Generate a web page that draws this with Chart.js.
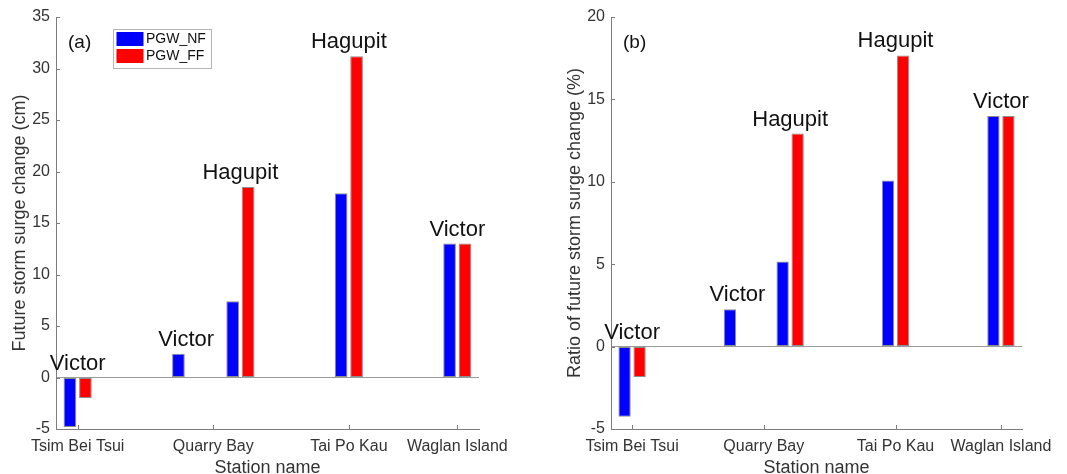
<!DOCTYPE html>
<html>
<head>
<meta charset="utf-8">
<title>Future storm surge change</title>
<script src="https://cdn.jsdelivr.net/npm/chart.js@4.4.0/dist/chart.umd.min.js"></script>
<style>
body { margin: 0; background: #fff; width: 1067px; height: 474px; overflow: hidden; position: relative; }
canvas { position: absolute; top: 0; }
#graficoA { left: 0; }
#graficoB { left: 530px; }
</style>
</head>
<body>
<canvas id="graficoA" width="530" height="474"></canvas>
<canvas id="graficoB" width="537" height="474"></canvas>
<script>
"use strict";

////////////////////////////////////////////////////// datos
const stationNames = ["Tsim Bei Tsui", "Quarry Bay", "Tai Po Kau", "Waglan Island"];
const stationTicks = [1, 3.5, 6, 8];
const casePos = [1, 3, 4, 6, 8];
const storms = ["Victor", "Victor", "Hagupit", "Hagupit", "Victor"];
const seriesNames = ["PGW_NF", "PGW_FF"];
const surgeNF = [-4.8, 2.3, 7.4, 17.9, 13.0];
const surgeFF = [-2.0, null, 18.5, 31.2, 13.0];
const ratioNF = [-4.25, 2.27, 5.16, 10.08, 14.0];
const ratioFF = [-1.84, null, 12.93, 17.67, 14.0];

////////////////////////////////////////////////////// estilos
const colores = ["#0000ff", "#ff0000"];
const colorEje = "#7d7d7d";
const colorTexto = "#333333";
Chart.defaults.font.family = '"Liberation Sans", Arial, Helvetica, sans-serif';
Chart.defaults.color = colorTexto;

function puntos(valores) {
    return casePos.map((x, i) => ({ x: x, y: valores[i] }));
}

////////////////////////////////////////////////////// plugin: ticks, etiquetas, leyenda
const extras = {
    id: "extras",
    afterDatasetsDraw(chart, args, opts) {
        const ctx = chart.ctx;
        const xs = chart.scales.x;
        const ys = chart.scales.y;
        const area = chart.chartArea;
        ctx.save();
        // ticks hacia dentro
        ctx.strokeStyle = colorEje;
        ctx.lineWidth = 1;
        ys.ticks.forEach((t) => {
            const py = Math.round(ys.getPixelForValue(t.value)) + 0.5;
            ctx.beginPath();
            ctx.moveTo(area.left, py);
            ctx.lineTo(area.left + 4, py);
            ctx.stroke();
        });
        xs.ticks.forEach((t) => {
            const px = Math.round(xs.getPixelForValue(t.value)) + 0.5;
            ctx.beginPath();
            ctx.moveTo(px, area.bottom);
            ctx.lineTo(px, area.bottom - 4);
            ctx.stroke();
        });
        // nombre del tifón encima de cada grupo
        const nf = chart.data.datasets[0].data;
        const ff = chart.data.datasets[1].data;
        ctx.fillStyle = "#111";
        ctx.font = '22px "Liberation Sans", Arial, sans-serif';
        ctx.textAlign = "center";
        ctx.textBaseline = "alphabetic";
        storms.forEach((nombre, i) => {
            const tope = Math.max(0, nf[i].y || 0, ff[i].y || 0);
            const px = xs.getPixelForValue(casePos[i]);
            const py = ys.getPixelForValue(tope) - 8;
            ctx.fillText(nombre, px, py);
        });
        // letra del panel
        ctx.textAlign = "left";
        ctx.textBaseline = "middle";
        ctx.font = '19px "Liberation Sans", Arial, sans-serif';
        ctx.fillText(opts.letra, area.left + opts.letraX, 43);
        // leyenda dentro del área
        if (opts.leyenda) {
            const bx = area.left + 57;
            const by = area.top + 12;
            ctx.fillStyle = "#fff";
            ctx.fillRect(bx, by, 98, 39);
            ctx.strokeStyle = "#b5b5b5";
            ctx.strokeRect(bx + 0.5, by + 0.5, 98, 39);
            ctx.font = '14px "Liberation Sans", Arial, sans-serif';
            seriesNames.forEach((s, k) => {
                const ry = by + 3 + k * 17;
                ctx.fillStyle = colores[k];
                ctx.fillRect(bx + 3.5, ry, 27, 14);
                ctx.fillStyle = "#111";
                ctx.fillText(s, bx + 33, ry + 7.5);
            });
        }
        ctx.restore();
    },
};

////////////////////////////////////////////////////// crear gráfico
function pintarGrafico(id, nf, ff, yMax, tituloY, pad, letra, leyenda) {
    const ctx = document.getElementById(id).getContext("2d");
    return new Chart(ctx, {
        type: "bar",
        data: {
            datasets: [
                { label: seriesNames[0], data: puntos(nf), backgroundColor: colores[0] },
                { label: seriesNames[1], data: puntos(ff), backgroundColor: colores[1] },
            ],
        },
        options: {
            responsive: false,
            animation: false,
            devicePixelRatio: 1,
            layout: { padding: pad },
            datasets: {
                bar: {
                    categoryPercentage: 0.57,
                    barPercentage: 0.82,
                    borderWidth: 1,
                    borderColor: "rgba(50,50,50,0.55)",
                    borderSkipped: false,
                },
            },
            plugins: {
                legend: { display: false },
                tooltip: { enabled: false },
                extras: { letra: letra, letraX: 12, leyenda: leyenda },
            },
            scales: {
                x: {
                    type: "linear",
                    min: 0.6,
                    max: 8.4,
                    offset: false,
                    afterBuildTicks: (s) => { s.ticks = stationTicks.map((v) => ({ value: v })); },
                    afterFit: (s) => { s.height = 45; },
                    ticks: {
                        autoSkip: false,
                        maxRotation: 0,
                        padding: 8,
                        font: { size: 16 },
                        color: colorTexto,
                        callback: (v, i) => stationNames[i],
                    },
                    grid: { display: false, drawTicks: false, offset: false },
                    border: { display: true, color: colorEje, width: 1 },
                    title: { display: true, text: "Station name", font: { size: 18 }, color: colorTexto, padding: { top: 0, bottom: -5 } },
                },
                y: {
                    min: -5,
                    max: yMax,
                    afterFit: (s) => { s.width = 56; },
                    ticks: { stepSize: 5, padding: 6, font: { size: 16 }, color: colorTexto },
                    grid: {
                        drawTicks: false,
                        color: (c) => (c.tick && c.tick.value === 0 ? "#9a9a9a" : "rgba(0,0,0,0)"),
                        lineWidth: 1,
                    },
                    border: { display: true, color: colorEje, width: 1 },
                    title: { display: true, text: tituloY, font: { size: 18 }, color: colorTexto, padding: { top: 9, bottom: 0 } },
                },
            },
        },
        plugins: [extras],
    });
}

////////////////////////////////////////////////////// MAIN
pintarGrafico("graficoA", surgeNF, surgeFF, 35, "Future storm surge change (cm)",
    { left: 0, right: 51, top: 17, bottom: 0 }, "(a)", true);
pintarGrafico("graficoB", ratioNF, ratioFF, 20, "Ratio of future storm surge change (%)",
    { left: 25, right: 45, top: 17, bottom: 0 }, "(b)", false);
</script>
</body>
</html>
